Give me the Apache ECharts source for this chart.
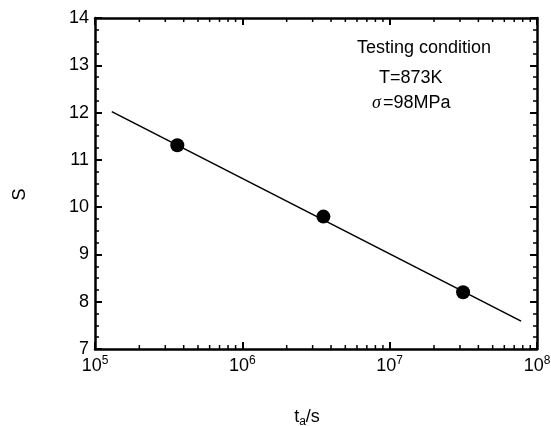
<!DOCTYPE html>
<html><head><meta charset="utf-8">
<script src="https://cdn.jsdelivr.net/npm/echarts@6/dist/echarts.min.js"></script>
<style>html,body{margin:0;padding:0;background:#fff}#c{width:551px;height:426px}</style>
</head><body><div id="c"></div>
<script>
// Data
const pointsX = [3.62e5, 3.55e6, 3.15e7];
const pointsY = [11.31, 9.80, 8.20];
const fitLineX = [1.30e5, 7.8e7];
const fitLineY = [12.02, 7.59];
const xMinorTicks = [2e5,3e5,4e5,5e5,6e5,7e5,8e5,9e5,2e6,3e6,4e6,5e6,6e6,7e6,8e6,9e6,2e7,3e7,4e7,5e7,6e7,7e7,8e7,9e7];
const yTicks = [7,8,9,10,11,12,13,14];
const annotationLines = ['Testing condition', 'T=873K', '=98MPa'];

const FONT = '"Liberation Sans", Arial, sans-serif';
const chart = echarts.init(document.getElementById('c'), null, {renderer:'canvas'});

const axisLineStyle = {color:'#000', width:2.5};
const yMin = yTicks[0], yMax = yTicks[yTicks.length-1];

const option = {
  animation:false,
  backgroundColor:'#fff',
  grid:{left:95, right:14, top:18, bottom:77, containLabel:false, outerBoundsMode:'none'},
  xAxis:[{
    type:'log', logBase:10, min:1e5, max:1e8, position:'bottom',
    axisLine:{show:true, onZero:false, lineStyle:axisLineStyle},
    axisTick:{show:true, inside:true, length:7, lineStyle:{color:'#000', width:2}},
    splitLine:{show:false},
    axisLabel:{margin:6, color:'#000', hideOverlap:false,
      formatter:function(v){return '{b|10}{s|'+Math.round(Math.log10(v))+'}';},
      rich:{b:{fontSize:18, fontFamily:FONT, color:'#000', lineHeight:22},
            s:{fontSize:12, fontFamily:FONT, color:'#000', lineHeight:12, verticalAlign:'top'}}},
    name:'{t|t}{a|a}{t|/s}', nameLocation:'middle', nameGap:57,
    nameTextStyle:{padding:[0,18,0,0], rich:{t:{fontSize:18, fontFamily:FONT, color:'#000', lineHeight:22},
                         a:{fontSize:12, fontFamily:FONT, color:'#000', lineHeight:12, verticalAlign:'bottom'}}}
  },{
    type:'log', logBase:10, min:1e5, max:1e8, position:'top',
    axisLine:{show:true, onZero:false, lineStyle:axisLineStyle},
    axisTick:{show:true, inside:true, length:7, lineStyle:{color:'#000', width:2}},
    axisLabel:{show:false}, splitLine:{show:false}
  }],
  yAxis:[{
    type:'value', min:yMin, max:yMax, interval:1, position:'left',
    axisLine:{show:true, onZero:false, lineStyle:axisLineStyle},
    axisTick:{show:true, inside:true, length:7, lineStyle:{color:'#000', width:2}},
    minorTick:{show:true, splitNumber:4, length:4, lineStyle:{color:'#000', width:1.5}},
    splitLine:{show:false},
    axisLabel:{margin:6, color:'#000', fontSize:18, fontFamily:FONT},
    name:'S', nameLocation:'middle', nameRotate:90, nameGap:66,
    nameTextStyle:{fontSize:18, fontFamily:FONT, color:'#000', padding:[0,22,0,0]}
  },{
    type:'value', min:yMin, max:yMax, interval:1, position:'right',
    axisLine:{show:true, onZero:false, lineStyle:axisLineStyle},
    axisTick:{show:true, inside:true, length:7, lineStyle:{color:'#000', width:2}},
    minorTick:{show:true, splitNumber:4, length:4, lineStyle:{color:'#000', width:1.5}},
    splitLine:{show:false}, axisLabel:{show:false}
  }],
  graphic:[
    {type:'text', left:357, top:39, style:{text:annotationLines[0], font:'18px '+FONT, fill:'#000'}},
    {type:'text', left:379, top:69, style:{text:annotationLines[1], font:'18px '+FONT, fill:'#000'}},
    {type:'text', left:372, top:94, style:{text:'σ', font:'italic 18px "Liberation Serif", serif', fill:'#000'}},
    {type:'text', left:383, top:94, style:{text:annotationLines[2], font:'18px '+FONT, fill:'#000'}}
  ],
  series:[
    {type:'custom', xAxisIndex:0, yAxisIndex:0, silent:true, clip:false,
     data:xMinorTicks.map(v=>[v]),
     renderItem:function(params, api){
       const v = api.value(0);
       const b = api.coord([v, yMin]);
       const t = api.coord([v, yMax]);
       return {type:'group', children:[
         {type:'line', shape:{x1:b[0], y1:b[1], x2:b[0], y2:b[1]-4}, style:{stroke:'#000', lineWidth:1.5}},
         {type:'line', shape:{x1:t[0], y1:t[1], x2:t[0], y2:t[1]+4}, style:{stroke:'#000', lineWidth:1.5}}
       ]};
     }},
    {type:'line', xAxisIndex:0, yAxisIndex:0, data:fitLineX.map((x,i)=>[x, fitLineY[i]]),
     showSymbol:false, symbol:'none', lineStyle:{color:'#000', width:1.6}},
    {type:'scatter', xAxisIndex:0, yAxisIndex:0, data:pointsX.map((x,i)=>[x, pointsY[i]]),
     symbol:'circle', symbolSize:14, itemStyle:{color:'#000', opacity:1}}
  ]
};
chart.setOption(option);
</script></body></html>
